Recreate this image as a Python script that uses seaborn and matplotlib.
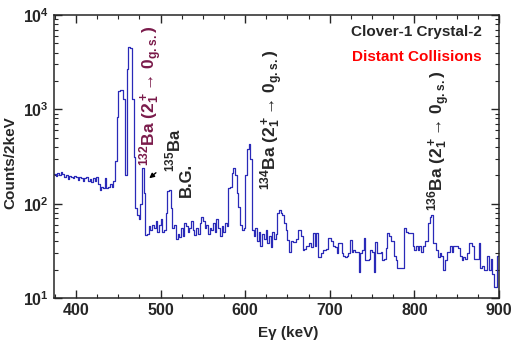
import numpy as np
import matplotlib
matplotlib.use('Agg')
import matplotlib.pyplot as plt
import seaborn as sns
from matplotlib.ticker import MultipleLocator, LogLocator

# gamma spectrum, 2 keV bins starting at 374 keV
energy = np.arange(374, 900, 2)
counts = [
    205, 198, 212, 200, 215,   205, 190, 200, 182, 195,
    190, 185, 196, 190, 180,   192, 185, 176, 186, 190,
    175, 182, 168, 186, 176,   190, 162, 140, 152, 148,
    186, 146, 150, 162, 150,   172, 280, 830, 1550, 1600,
    1600, 1300, 200, 2700, 4600,   4500, 1300, 310, 90, 75,
    68, 100, 240, 130, 46,     48, 58, 52, 60, 55,
    65, 50, 60, 68, 50,        52, 80, 135, 140, 90,
    55, 60, 42, 48, 44,        55, 45, 62, 58, 50,
    55, 66, 52, 46, 55,        48, 62, 72, 65, 55,
    60, 48, 55, 52, 62,        50, 68, 55, 45, 58,
    50, 62, 58, 145, 150,      210, 240, 200, 130, 92,
    60, 52, 55, 200, 380,      430, 300, 52, 45, 55,
    40, 50, 36, 48, 42,        52, 38, 45, 35, 50,
    42, 48, 80, 86, 80,        76, 62, 52, 41, 31,
    40, 39, 39, 42, 52,        52, 45, 32, 33, 36,
    36, 38, 35, 49, 36,        49, 27, 27, 30, 32,
    32, 33, 43, 43, 40,        36, 35, 30, 38, 38,
    30, 28, 27, 28, 30,        41, 31, 32, 31, 31,
    19, 30, 32, 43, 25,        25, 26, 32, 31, 19,
    39, 30, 30, 31, 25,        26, 34, 49, 45, 40,
    40, 28, 25, 21, 21,        21, 21, 55, 50, 49,
    49, 49, 36, 32, 36,        32, 36, 31, 36, 40,
    40, 62, 72, 76, 38,        38, 32, 27, 30, 28,
    20, 25, 31, 31, 36,        31, 36, 36, 36, 34,
    28, 25, 27, 26, 30,        38, 38, 36, 26, 26,
    26, 38, 21, 22, 20,        20, 28, 20, 26, 18,
    13, 13, 28,
]

sns.set_style('ticks')
plt.rcParams['font.family'] = ['Liberation Sans', 'DejaVu Sans']
plt.rcParams['font.weight'] = 'bold'
plt.rcParams['mathtext.fontset'] = 'custom'
plt.rcParams['mathtext.rm'] = 'Liberation Sans:bold'
plt.rcParams['mathtext.it'] = 'Liberation Sans:bold'
plt.rcParams['mathtext.bf'] = 'Liberation Sans:bold'

fig = plt.figure(figsize=(5.11, 3.42), dpi=100)
ax = fig.add_axes([0.1057, 0.1287, 0.8708, 0.8273])

x = np.append(energy, 900)
y = np.append(counts, counts[-1])
sns.lineplot(x=x, y=y, drawstyle='steps-post', estimator=None, sort=False,
             color='#2a2ab8', linewidth=0.9, ax=ax)

ax.set_yscale('log')
ax.set_xlim(374, 900)
ax.set_ylim(10, 1e4)
ax.xaxis.set_major_locator(MultipleLocator(100))
ax.xaxis.set_minor_locator(MultipleLocator(25))
ax.yaxis.set_major_locator(LogLocator(base=10))
ax.yaxis.set_minor_locator(LogLocator(base=10, subs=np.arange(2, 10)))
ax.tick_params(which='both', direction='in', top=True, right=True, labelsize=11.5)
ax.tick_params(which='major', length=6, width=1)
ax.tick_params(which='minor', length=3, width=0.8)
for s in ax.spines.values():
    s.set_linewidth(1.1)
ax.set_xlabel('Eγ (keV)', fontsize=11, fontweight='bold')
ax.set_ylabel('Counts/2keV', fontsize=11, fontweight='bold')
ax.xaxis.set_label_coords(0.527, -0.098)
ax.yaxis.set_label_coords(-0.082, 0.48)

label = r'$^{%d}$Ba (2$_1^+$→ 0$_{\mathrm{g.s.}}$)'
ax.text(488, 250, label % 132, rotation=90, ha='center', va='bottom',
        color='#7a1a4a', fontsize=12.5, fontweight='bold')
ax.text(515, 217, r'$^{135}$Ba', rotation=90, ha='center', va='bottom', fontsize=12, fontweight='bold')
ax.annotate('', xy=(484, 178), xytext=(497, 222),
            arrowprops=dict(arrowstyle='-|>', color='black', lw=1, mutation_scale=7))
ax.text(530, 118, 'B.G.', rotation=90, ha='center', va='bottom', fontsize=12, fontweight='bold')
ax.text(631, 138, label % 134, rotation=90, ha='center', va='bottom',
        fontsize=12.5, fontweight='bold')
ax.text(829, 84, label % 136, rotation=90, ha='center', va='bottom',
        fontsize=12.5, fontweight='bold')
ax.text(0.962, 0.94, 'Clover-1 Crystal-2', transform=ax.transAxes, ha='right', va='center',
        fontsize=11, fontweight='bold')
ax.text(0.962, 0.852, 'Distant Collisions', transform=ax.transAxes, ha='right', va='center',
        fontsize=11, fontweight='bold', color='red')

fig.savefig('out.png', dpi=100)
